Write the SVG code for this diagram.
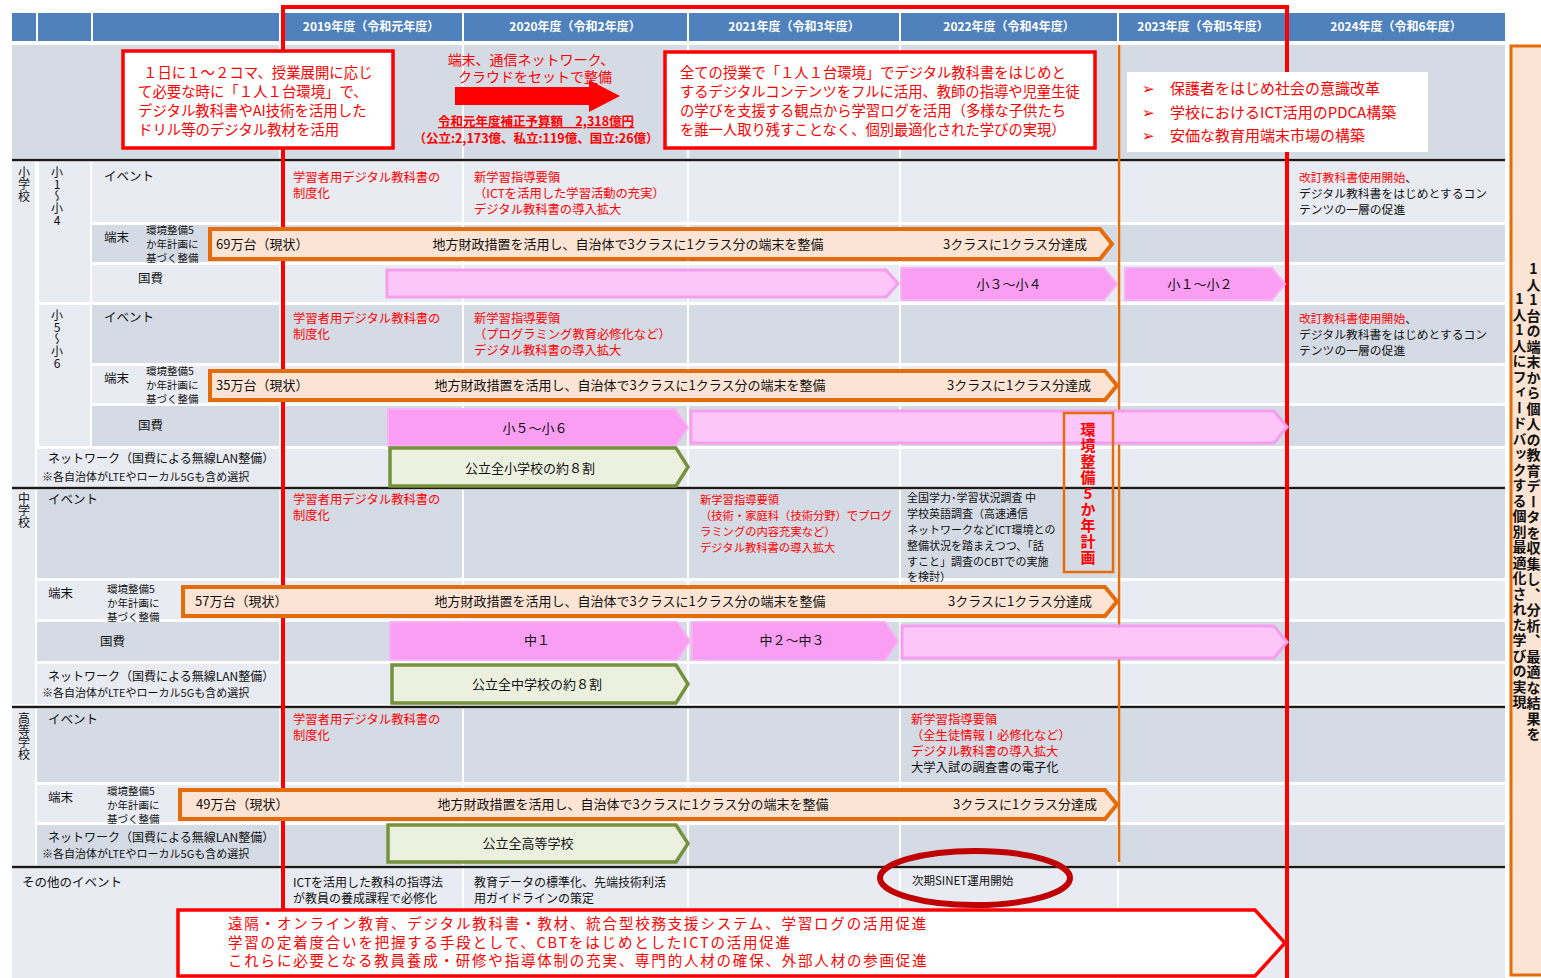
<svg xmlns="http://www.w3.org/2000/svg" width="1541" height="978" viewBox="0 0 1541 978">
<style>
text{font-family:"Noto Sans CJK JP","Noto Sans",sans-serif;fill:#111}
.hd{fill:#fff;font-size:12px;font-weight:bold;text-anchor:middle}
.r{fill:#FF0000}
.k{fill:#111}
.ev{font-size:12.3px}
.lb{font-size:12.5px}
.sm{font-size:10.5px}
.nw{font-size:12px}
.nw2{font-size:11px}
.ar{font-size:13px}
.c{text-anchor:middle}
.v{writing-mode:vertical-rl;text-orientation:upright;font-size:12px}
.D{fill:#D5DBE5}
.L{fill:#E8EBF1}
.org{fill:#FCE4D4;stroke:#E46C0A;stroke-width:4}
.pk{fill:#FA9EF3;stroke:#F9B0F4;stroke-width:2}
.lp{fill:#FCC6F8;stroke:#F59EEE;stroke-width:3}
.gr{fill:#EBF0DF;stroke:#76923C;stroke-width:3.5}
.sep{stroke:#1a1a1a;stroke-width:2.5}
.wl{stroke:#fff;stroke-width:2}
.bt{font-size:14.5px;letter-spacing:1.8px}
.rv{font-size:14px;font-weight:bold;letter-spacing:1.5px}
</style>
<rect x="0" y="0" width="1541" height="978" fill="#fff"/>

<!-- header -->
<g id="header">
<rect x="12" y="13" width="1493" height="28" fill="#4F81BD"/>
<g class="wl">
<line x1="37" y1="13" x2="37" y2="41"/><line x1="92" y1="13" x2="92" y2="41"/><line x1="280" y1="13" x2="280" y2="41"/><line x1="463" y1="13" x2="463" y2="41"/><line x1="688" y1="13" x2="688" y2="41"/><line x1="900" y1="13" x2="900" y2="41"/><line x1="1118" y1="13" x2="1118" y2="41"/><line x1="1288" y1="13" x2="1288" y2="41"/>
</g>
<text class="hd" x="371" y="31">2019年度（令和元年度）</text>
<text class="hd" x="575" y="31">2020年度（令和2年度）</text>
<text class="hd" x="794" y="31">2021年度（令和3年度）</text>
<text class="hd" x="1009" y="31">2022年度（令和4年度）</text>
<text class="hd" x="1203" y="31">2023年度（令和5年度）</text>
<text class="hd" x="1396" y="31">2024年度（令和6年度）</text>
</g>

<!-- row backgrounds -->
<g id="rows">
<rect class="D" x="12" y="45" width="1493" height="113"/>
<rect class="L" x="92" y="162" width="1413" height="60"/>
<rect class="D" x="92" y="225" width="1413" height="37"/>
<rect class="L" x="92" y="265" width="1413" height="37"/>
<rect class="D" x="92" y="305" width="1413" height="58"/>
<rect class="L" x="92" y="366" width="1413" height="37"/>
<rect class="D" x="92" y="406" width="1413" height="40"/>
<rect class="L" x="37" y="449" width="1468" height="37"/>
<rect class="D" x="37" y="490" width="1468" height="88"/>
<rect class="L" x="37" y="581" width="1468" height="38"/>
<rect class="D" x="37" y="622" width="1468" height="39"/>
<rect class="L" x="37" y="664" width="1468" height="40"/>
<rect class="D" x="37" y="709" width="1468" height="73"/>
<rect class="L" x="37" y="785" width="1468" height="37"/>
<rect class="D" x="37" y="825" width="1468" height="40"/>
<rect class="L" x="12" y="869" width="1493" height="109"/>
<rect class="L" x="12" y="162" width="23" height="324"/>
<rect class="L" x="39" y="162" width="51" height="140"/>
<rect class="L" x="39" y="305" width="51" height="141"/>
<rect class="L" x="12" y="490" width="23" height="214"/>
<rect class="L" x="12" y="709" width="23" height="156"/>
<g class="wl">
<line x1="280" y1="45" x2="280" y2="978"/><line x1="463" y1="45" x2="463" y2="978"/><line x1="688" y1="45" x2="688" y2="978"/><line x1="900" y1="45" x2="900" y2="978"/><line x1="1118" y1="45" x2="1118" y2="978"/><line x1="1288" y1="45" x2="1288" y2="978"/>
</g>
<line class="sep" x1="12" y1="160" x2="1505" y2="160"/>
<line class="sep" x1="12" y1="488" x2="1505" y2="488"/>
<line class="sep" x1="12" y1="707" x2="1505" y2="707"/>
<line class="sep" x1="12" y1="867" x2="1505" y2="867"/>
</g>

<!-- red frame and orange line -->
<g id="frames">
<polyline points="283,910 283,7 1287,7 1287,978" fill="none" stroke="#FF0000" stroke-width="4"/>
<line x1="1119" y1="45" x2="1119" y2="862" stroke="#E46C0A" stroke-width="2.5"/>
</g>

<!-- left labels -->
<g id="labels">
<text class="v" x="24" y="166">小学校</text>
<text class="v" x="57" y="166">小1〜小4</text>
<text class="v" x="57" y="309">小5〜小6</text>
<text class="v" x="24" y="492">中学校</text>
<text class="v" x="24" y="712">高等学校</text>
<text class="lb" x="104" y="181">イベント</text>
<text class="lb" x="104" y="242">端末</text>
<text class="sm" x="146" y="234">環境整備5</text><text class="sm" x="146" y="248">か年計画に</text><text class="sm" x="146" y="262">基づく整備</text>
<text class="lb" x="138" y="283">国費</text>
<text class="lb" x="104" y="322">イベント</text>
<text class="lb" x="104" y="383">端末</text>
<text class="sm" x="146" y="375">環境整備5</text><text class="sm" x="146" y="389">か年計画に</text><text class="sm" x="146" y="403">基づく整備</text>
<text class="lb" x="138" y="430">国費</text>
<text class="nw" x="48" y="463">ネットワーク（国費による無線LAN整備）</text>
<text class="nw2" x="42" y="481">※各自治体がLTEやローカル5Gも含め選択</text>
<text class="lb" x="48" y="504">イベント</text>
<text class="lb" x="48" y="598">端末</text>
<text class="sm" x="107" y="593">環境整備5</text><text class="sm" x="107" y="607">か年計画に</text><text class="sm" x="107" y="621">基づく整備</text>
<text class="lb" x="100" y="646">国費</text>
<text class="nw" x="48" y="681">ネットワーク（国費による無線LAN整備）</text>
<text class="nw2" x="42" y="697">※各自治体がLTEやローカル5Gも含め選択</text>
<text class="lb" x="48" y="724">イベント</text>
<text class="lb" x="48" y="802">端末</text>
<text class="sm" x="107" y="795">環境整備5</text><text class="sm" x="107" y="809">か年計画に</text><text class="sm" x="107" y="823">基づく整備</text>
<text class="nw" x="48" y="842">ネットワーク（国費による無線LAN整備）</text>
<text class="nw2" x="42" y="858">※各自治体がLTEやローカル5Gも含め選択</text>
<text class="lb" x="22" y="887">その他のイベント</text>
</g>

<!-- top row -->
<g id="box-left">
<rect x="123" y="51" width="270" height="97" fill="#fff" stroke="#FF0000" stroke-width="3.5"/>
<text class="r" font-size="14.4" x="143" y="78">１日に１～２コマ、授業展開に応じ</text>
<text class="r" font-size="14.4" x="138" y="97">て必要な時に「１人１台環境」で、</text>
<text class="r" font-size="14.4" x="138" y="116">デジタル教科書やAI技術を活用した</text>
<text class="r" font-size="14.4" x="138" y="135">ドリル等のデジタル教材を活用</text>
</g>
<g id="setup">
<text class="r c" font-size="14" x="531" y="65">端末、通信ネットワーク、</text>
<text class="r c" font-size="14" x="535" y="82">クラウドをセットで整備</text>
<polygon points="455,87 589,87 589,80 620,96 589,112 589,105 455,105" fill="#FF0000"/>
<text class="r c" font-size="12.5" font-weight="bold" x="536" y="126" text-decoration="underline">令和元年度補正予算額　2,318億円</text>
<text class="r c" font-size="12.5" font-weight="bold" x="536" y="143">（公立:2,173億、私立:119億、国立:26億）</text>
</g>
<g id="box-mid">
<rect x="665" y="52" width="430" height="96" fill="#fff" stroke="#FF0000" stroke-width="3.5"/>
<text class="r" font-size="14.3" x="680" y="78">全ての授業で「１人１台環境」でデジタル教科書をはじめと</text>
<text class="r" font-size="14.3" x="680" y="97">するデジタルコンテンツをフルに活用、教師の指導や児童生徒</text>
<text class="r" font-size="14.3" x="680" y="116">の学びを支援する観点から学習ログを活用（多様な子供たち</text>
<text class="r" font-size="14.3" x="680" y="135">を誰一人取り残すことなく、個別最適化された学びの実現）</text>
</g>
<g id="box-bullets">
<rect x="1127" y="72" width="301" height="80" fill="#fff"/>
<text class="r" font-size="14.5" x="1142" y="94">➢</text><text class="r" font-size="15" x="1170" y="94">保護者をはじめ社会の意識改革</text>
<text class="r" font-size="14.5" x="1142" y="118">➢</text><text class="r" font-size="15" x="1170" y="118">学校におけるICT活用のPDCA構築</text>
<text class="r" font-size="14.5" x="1142" y="141">➢</text><text class="r" font-size="15" x="1170" y="141">安価な教育用端末市場の構築</text>
</g>

<!-- elementary 1-4 -->
<g id="e14-events">
<text class="r ev" x="293" y="182">学習者用デジタル教科書の</text><text class="r ev" x="293" y="198">制度化</text>
<text class="r ev" x="474" y="182">新学習指導要領</text><text class="r ev" x="474" y="198">（ICTを活用した学習活動の充実）</text><text class="r ev" x="474" y="214">デジタル教科書の導入拡大</text>
<text font-size="11.8" x="1299" y="182"><tspan class="r">改訂教科書使用開始</tspan>、</text><text font-size="11.8" x="1299" y="198">デジタル教科書をはじめとするコン</text><text font-size="11.8" x="1299" y="214">テンツの一層の促進</text>
</g>
<g id="e14-device">
<polygon class="org" points="210,229 1100,229 1112,244 1100,259 210,259"/>
<text class="ar" x="216" y="249">69万台（現状）</text>
<text class="ar c" x="628" y="249">地方財政措置を活用し、自治体で3クラスに1クラス分の端末を整備</text>
<text class="ar" x="943" y="249">3クラスに1クラス分達成</text>
</g>
<g id="e14-national">
<polygon class="lp" points="387,270 886,270 898,283.5 886,297 387,297"/>
<polygon class="pk" points="901,268 1104,268 1117,284 1104,300 901,300"/>
<text class="ar c" x="1009" y="289">小３～小４</text>
<polygon class="pk" points="1125,268 1272,268 1285,284 1272,300 1125,300"/>
<text class="ar c" x="1200" y="289">小１～小２</text>
</g>

<!-- elementary 5-6 -->
<g id="e56-events">
<text class="r ev" x="293" y="323">学習者用デジタル教科書の</text><text class="r ev" x="293" y="339">制度化</text>
<text class="r ev" x="474" y="323">新学習指導要領</text><text class="r ev" x="474" y="339">（プログラミング教育必修化など）</text><text class="r ev" x="474" y="355">デジタル教科書の導入拡大</text>
<text font-size="11.8" x="1299" y="323"><tspan class="r">改訂教科書使用開始</tspan>、</text><text font-size="11.8" x="1299" y="339">デジタル教科書をはじめとするコン</text><text font-size="11.8" x="1299" y="355">テンツの一層の促進</text>
</g>
<g id="e56-device">
<polygon class="org" points="210,371 1105,371 1117,385.5 1105,400 210,400"/>
<text class="ar" x="216" y="390">35万台（現状）</text>
<text class="ar c" x="630" y="390">地方財政措置を活用し、自治体で3クラスに1クラス分の端末を整備</text>
<text class="ar" x="947" y="390">3クラスに1クラス分達成</text>
</g>
<g id="e56-national">
<polygon class="pk" points="388,409 675,409 688,427.5 675,446 388,446"/>
<text class="ar c" x="535" y="433">小５～小６</text>
<polygon class="lp" points="691,411 1274,411 1287,427 1274,443 691,443"/>
</g>
<g id="e-network">
<polygon class="gr" points="390,448 676,448 688,467 676,486 390,486"/>
<text class="ar c" x="530" y="473">公立全小学校の約８割</text>
</g>

<!-- plan box -->
<g id="plan5">
<rect x="1064" y="413" width="49" height="159" fill="none" stroke="#E46C0A" stroke-width="2.5"/>
<text class="v r" x="1088" y="422" style="font-size:15px;font-weight:bold;letter-spacing:1px">環境整備5か年計画</text>
</g>

<!-- middle school -->
<g id="m-events">
<text class="r ev" x="293" y="504">学習者用デジタル教科書の</text><text class="r ev" x="293" y="520">制度化</text>
<text class="r" font-size="11.3" x="700" y="504">新学習指導要領</text><text class="r" font-size="11.3" x="700" y="520">（技術・家庭科（技術分野）でプログ</text><text class="r" font-size="11.3" x="700" y="536">ラミングの内容充実など）</text><text class="r" font-size="11.3" x="700" y="552">デジタル教科書の導入拡大</text>
<text font-size="11" x="907" y="502">全国学力･学習状況調査 中</text><text font-size="11" x="907" y="518">学校英語調査（高速通信</text><text font-size="11" x="907" y="534">ネットワークなどICT環境との</text><text font-size="11" x="907" y="550">整備状況を踏まえつつ、「話</text><text font-size="11" x="907" y="566">すこと」調査のCBTでの実施</text><text font-size="11" x="907" y="581">を検討）</text>
</g>
<g id="m-device">
<polygon class="org" points="183,587 1105,587 1117,601.5 1105,616 183,616"/>
<text class="ar" x="195" y="606">57万台（現状）</text>
<text class="ar c" x="630" y="606">地方財政措置を活用し、自治体で3クラスに1クラス分の端末を整備</text>
<text class="ar" x="948" y="606">3クラスに1クラス分達成</text>
</g>
<g id="m-national">
<polygon class="pk" points="390,622 677,622 690,641 677,660 390,660"/>
<text class="ar c" x="537" y="645">中１</text>
<polygon class="pk" points="692,622 885,622 898,641 885,660 692,660"/>
<text class="ar c" x="792" y="645">中２～中３</text>
<polygon class="lp" points="902,626 1274,626 1287,642 1274,658 902,658"/>
</g>
<g id="m-network">
<polygon class="gr" points="392,665 676,665 688,684 676,703 392,703"/>
<text class="ar c" x="537" y="689">公立全中学校の約８割</text>
</g>

<!-- high school -->
<g id="h-events">
<text class="r ev" x="293" y="724">学習者用デジタル教科書の</text><text class="r ev" x="293" y="740">制度化</text>
<text class="r ev" x="911" y="724">新学習指導要領</text><text class="r ev" x="911" y="740">（全生徒情報Ⅰ必修化など）</text><text class="r ev" x="911" y="756">デジタル教科書の導入拡大</text><text class="ev" x="911" y="772">大学入試の調査書の電子化</text>
</g>
<g id="h-device">
<polygon class="org" points="180,790 1105,790 1117,804.5 1105,819 180,819"/>
<text class="ar" x="196" y="809">49万台（現状）</text>
<text class="ar c" x="633" y="809">地方財政措置を活用し、自治体で3クラスに1クラス分の端末を整備</text>
<text class="ar" x="953" y="809">3クラスに1クラス分達成</text>
</g>
<g id="h-network">
<polygon class="gr" points="388,825 676,825 688,843.5 676,862 388,862"/>
<text class="ar c" x="528" y="848">公立全高等学校</text>
</g>

<!-- other events -->
<g id="other">
<text font-size="12" x="293" y="887">ICTを活用した教科の指導法</text><text font-size="12" x="293" y="903">が教員の養成課程で必修化</text>
<text font-size="12" x="474" y="887">教育データの標準化、先端技術利活</text><text font-size="12" x="474" y="903">用ガイドラインの策定</text>
<text font-size="11.5" x="912" y="885">次期SINET運用開始</text>
<ellipse cx="975" cy="878" rx="95" ry="27" fill="none" stroke="#C00000" stroke-width="6"/>
</g>
<g id="bottom-arrow">
<polygon points="178,910 1255,910 1285,943 1255,976 178,976" fill="#fff" stroke="#FF0000" stroke-width="3.5"/>
<text class="r bt" x="228" y="929">遠隔・オンライン教育、デジタル教科書・教材、統合型校務支援システム、学習ログの活用促進</text>
<text class="r bt" x="228" y="947.5">学習の定着度合いを把握する手段として、CBTをはじめとしたICTの活用促進</text>
<text class="r bt" x="228" y="966">これらに必要となる教員養成・研修や指導体制の充実、専門的人材の確保、外部人材の参画促進</text>
</g>

<!-- right box -->
<g id="right-box">
<rect x="1511" y="46" width="40" height="929" fill="#FCE4D4" stroke="#E46C0A" stroke-width="3"/>
<text class="v rv" x="1533.5" y="262">1人1台の端末から個人の教育データを収集し、分析、最適な結果を</text>
<text class="v rv" x="1519.5" y="292">1人1人にフィードバックする個別最適化された学びの実現</text>
</g>
</svg>
